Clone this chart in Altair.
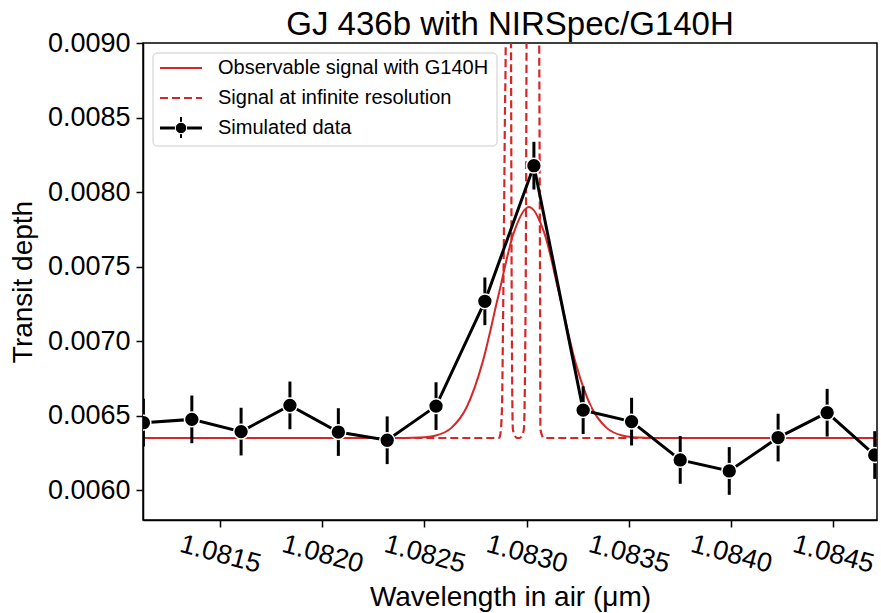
import altair as alt
import pandas as pd

FONT = "Liberation Sans"
RED = "#d62728"

# ---- simulated data (black points with error bars) ----
data_wl = [1.081125, 1.081362, 1.081603, 1.081842, 1.082079, 1.082318, 1.082557, 1.082796,
           1.083036, 1.083277, 1.083514, 1.083752, 1.083992, 1.084231, 1.084471, 1.084704]
data_depth = [0.006453, 0.006475, 0.006393, 0.006569, 0.006390, 0.006335, 0.006564, 0.007267,
              0.008177, 0.006537, 0.006460, 0.006203, 0.006129, 0.006353, 0.006520, 0.006236]
data_err = [0.00016, 0.00016, 0.00016, 0.00016, 0.00016, 0.00016, 0.00016, 0.00016,
            0.00016, 0.00016, 0.00016, 0.00016, 0.00016, 0.00016, 0.00016, 0.00016]

# ---- observable signal with G140H (red solid) ----
obs_wl = [1.0811, 1.082404, 1.082480, 1.082556, 1.082632, 1.082708, 1.082784, 1.082860,
          1.082936, 1.083012, 1.083088, 1.083164, 1.083240, 1.083316, 1.083392, 1.083468,
          1.083544, 1.083620, 1.0848]
obs_depth = [0.00635, 0.00635, 0.006353, 0.006367, 0.006418, 0.006560, 0.006854, 0.007292,
             0.007721, 0.00790, 0.007721, 0.007292, 0.006854, 0.006560, 0.006418, 0.006367,
             0.006353, 0.00635, 0.00635]

# ---- signal at infinite resolution (red dashed) ----
inf_wl = [1.0811, 1.082865, 1.082871, 1.082879, 1.082887, 1.082891, 1.082894, 1.082898,
          1.082903, 1.082910, 1.082918, 1.082924, 1.082927, 1.082933, 1.082945, 1.082952,
          1.082964, 1.082976, 1.082987, 1.082996, 1.083000, 1.083010, 1.083031, 1.083052,
          1.083062, 1.083066, 1.083068, 1.083075, 1.083082, 1.0848]
inf_depth = [0.00635, 0.00635, 0.00637, 0.00652, 0.00741, 0.00800, 0.00850, 0.00900,
             0.01100, 0.01400, 0.01100, 0.00900, 0.00741, 0.00641, 0.00636, 0.00635,
             0.00635, 0.00636, 0.00641, 0.00741, 0.00900, 0.01300, 0.02000, 0.01300,
             0.00900, 0.00741, 0.00641, 0.00637, 0.00635, 0.00635]

x_ticks = [1.0815, 1.0820, 1.0825, 1.0830, 1.0835, 1.0840, 1.0845]
y_ticks = [0.0060, 0.0065, 0.0070, 0.0075, 0.0080, 0.0085, 0.0090]
x_domain = [1.081123, 1.084715]
y_domain = [0.0058, 0.0090]

title_text = "GJ 436b with NIRSpec/G140H"
legend_labels = ["Observable signal with G140H", "Signal at infinite resolution", "Simulated data"]

df_data = pd.DataFrame({"wl": data_wl, "depth": data_depth, "err": data_err})
df_obs = pd.DataFrame({"wl": obs_wl, "depth": obs_depth})
df_inf = pd.DataFrame({"wl": inf_wl, "depth": inf_depth})

X = alt.X("wl:Q", scale=alt.Scale(domain=x_domain, nice=False, zero=False),
          axis=alt.Axis(values=x_ticks, format=".4f", title="Wavelength in air (μm)",
                        labelAngle=15, labelAlign="center", labelBaseline="middle",
                        labelPadding=27, titlePadding=6))
Y_AX = alt.Axis(values=y_ticks, format=".4f", title="Transit depth", labelPadding=6,
                titlePadding=10)
Y = alt.Y("depth:Q", scale=alt.Scale(domain=y_domain, nice=False, zero=False), axis=Y_AX)

obs = alt.Chart(df_obs).mark_line(color=RED, strokeWidth=2, interpolate="monotone",
                                  clip=True).encode(x=X, y=Y)
inf = alt.Chart(df_inf).mark_line(color=RED, strokeWidth=2.2, strokeDash=[8, 4],
                                  interpolate="monotone", clip=True).encode(x=X, y=Y)
base = alt.Chart(df_data).transform_calculate(
    lo="datum.depth - datum.err", hi="datum.depth + datum.err")
errs = base.mark_rule(color="black", strokeWidth=3, clip=True).encode(
    x=X,
    y=alt.Y("lo:Q", scale=alt.Scale(domain=y_domain, nice=False, zero=False), axis=Y_AX),
    y2="hi:Q")
line = alt.Chart(df_data).mark_line(color="black", strokeWidth=3, clip=True).encode(x=X, y=Y)
pts = alt.Chart(df_data).mark_circle(size=220, color="black", opacity=1, stroke="white",
                                     strokeWidth=1.5, clip=True).encode(x=X, y=Y)

one = alt.Data(values=[{"k": 0}])

# ---- title ----
title = alt.Chart(one).mark_text(align="center", baseline="alphabetic", font=FONT,
                                 fontSize=33, color="black").encode(
    x=alt.value(367), y=alt.value(-8), text=alt.value(title_text))

# ---- legend ----
leg_box = alt.Chart(one).mark_rect(fill="white", fillOpacity=0.8, stroke="#cccccc",
                                   strokeWidth=1, cornerRadius=4).encode(
    x=alt.value(10), x2=alt.value(354), y=alt.value(10), y2=alt.value(103))
leg_l1 = alt.Chart(one).mark_rule(color=RED, strokeWidth=2).encode(
    x=alt.value(17), x2=alt.value(59), y=alt.value(25))
leg_l2 = alt.Chart(one).mark_rule(color=RED, strokeWidth=2.2, strokeDash=[8, 4]).encode(
    x=alt.value(17), x2=alt.value(59), y=alt.value(55))
leg_l3 = alt.Chart(one).mark_rule(color="black", strokeWidth=3).encode(
    x=alt.value(17), x2=alt.value(59), y=alt.value(85))
leg_e3 = alt.Chart(one).mark_rule(color="black", strokeWidth=2).encode(
    x=alt.value(38), y=alt.value(74), y2=alt.value(95))
leg_p3 = alt.Chart(one).mark_circle(size=130, color="black", opacity=1, stroke="white",
                                    strokeWidth=1).encode(x=alt.value(38), y=alt.value(85))
leg_texts = [
    alt.Chart(one).mark_text(align="left", baseline="middle", font=FONT, fontSize=20,
                             color="black").encode(
        x=alt.value(75), y=alt.value(25 + 30 * i), text=alt.value(lbl))
    for i, lbl in enumerate(legend_labels)
]

chart = alt.layer(obs, inf, errs, line, pts, leg_box, leg_l1, leg_l2, leg_l3, leg_e3, leg_p3,
                  *leg_texts, title).properties(
    width=734, height=477,
    autosize=alt.AutoSizeParams(type="none"),
    padding={"left": 143, "top": 43, "right": 4, "bottom": 93},
).configure_view(stroke="black", strokeWidth=1.5).configure_axis(
    grid=False, domainColor="black", domainWidth=1.5, tickColor="black", tickWidth=1.5,
    tickSize=7, labelColor="black", titleColor="black", labelFont=FONT, titleFont=FONT,
    labelFontSize=27, titleFontSize=28, titleFontWeight="normal")

chart.save("out.html", embed_options={"renderer": "svg", "actions": False})
